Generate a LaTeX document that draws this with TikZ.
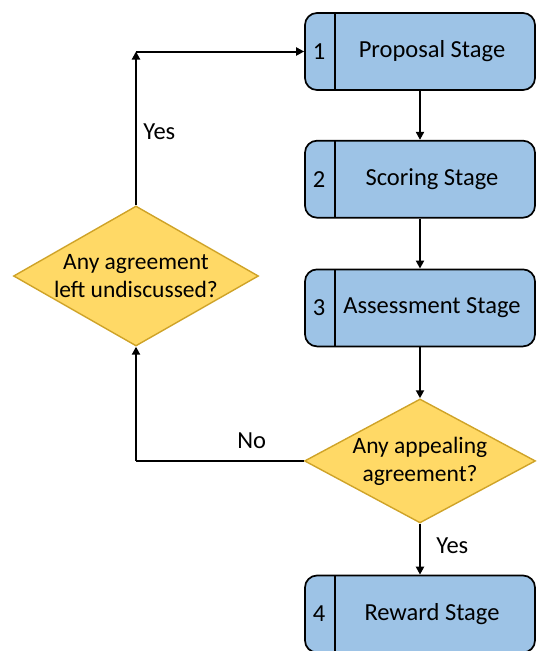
\documentclass[tikz,border=0pt]{standalone}
\usepackage{fontspec}
\setmainfont{Carlito}
\usetikzlibrary{positioning, shapes.geometric, arrows.meta}

\definecolor{stageblue}{RGB}{157,195,230}
\definecolor{decisionfill}{RGB}{255,217,102}
\definecolor{decisionline}{RGB}{207,163,40}

\tikzset{
  stage/.style={draw, line width=1.7pt, fill=stageblue, rounded corners=12pt,
    minimum width=230pt, minimum height=77pt, font=\fontsize{24.5}{28}\selectfont,
    path picture={\draw[line width=1.7pt]
      ([xshift=30pt]path picture bounding box.north west) --
      ([xshift=30pt]path picture bounding box.south west);}},
  stagenum/.style={anchor=center, xshift=15pt, font=\fontsize{24.5}{28}\selectfont},
  decision/.style={diamond, draw=decisionline, line width=1.4pt, fill=decisionfill,
    inner sep=0pt},
  dtext/.style={align=center, font=\fontsize{23.5}{28}\selectfont},
  arr/.style={line width=2pt, -{Triangle[length=8pt,width=8pt]}},
  answer/.style={font=\fontsize{24.5}{28}\selectfont},
}

\begin{document}
\begin{tikzpicture}[x=1pt, y=-1pt]
  \useasboundingbox (0,0) rectangle (536,651);

  % stages on the right
  \node[stage, label={[stagenum]west:1}] (s1) at (420,51.5) {\hspace{24pt}Proposal Stage};
  \node[stage, label={[stagenum]west:2}, below=49pt of s1] (s2) {\hspace{24pt}Scoring Stage};
  \node[stage, label={[stagenum]west:3}, below=50pt of s2] (s3) {\hspace{24pt}Assessment Stage};
  \node[decision, minimum width=231pt, minimum height=124pt, below=51pt of s3,
    label={[dtext]center:Any appealing\\agreement?}] (d2) {};
  \node[stage, label={[stagenum]west:4}, below=51pt of d2] (s4) {\hspace{24pt}Reward Stage};

  % loop back on the left
  \node[decision, minimum width=245pt, minimum height=140pt,
    label={[dtext]center:Any agreement\\left undiscussed?}] (d1) at (136,276) {};
  \coordinate (c1) at (d1.north |- s1.west);
  \coordinate (c2) at (d1.south |- d2.west);

  \draw[arr] (s1) -- (s2);
  \draw[arr] (s2) -- (s3);
  \draw[arr] (s3) -- (d2);
  \draw[arr] (d2) -- node[answer, right=12pt, pos=0.43] (yes2) {Yes} (s4);
  \draw[line width=2pt] (d2.west) -- node[answer, above=8pt, pos=0.31] (no) {No} (c2);
  \draw[arr] (c2) -- (d1.south);
  \draw[arr] (d1.north) -- node[answer, right=3pt, pos=0.48] (yes1) {Yes} (c1);
  \draw[arr] (c1) -- (s1.west);
\end{tikzpicture}
\end{document}
